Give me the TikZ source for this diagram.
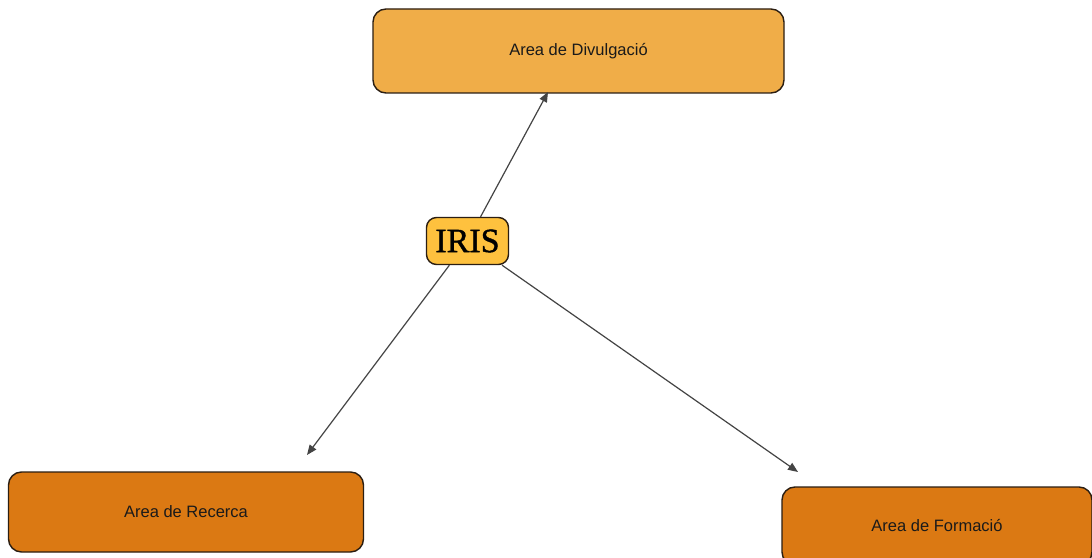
\documentclass[tikz,border=0pt]{standalone}
\usepackage{fontspec}
\setmainfont{Liberation Sans}
\newfontface\irisfont{Liberation Serif}[FakeBold=1.2]
\usetikzlibrary{arrows.meta}
\definecolor{topfill}{HTML}{F0AD48}
\definecolor{irisfill}{HTML}{FEC13E}
\definecolor{botfill}{HTML}{DB7913}
\definecolor{edgecol}{HTML}{2B1E12}
\definecolor{arrcol}{HTML}{444444}
\definecolor{txtcol}{HTML}{1A1A1A}
\begin{document}
\begin{tikzpicture}[x=1bp,y=-1bp,
  box/.style={draw=edgecol, line width=1.4bp, rounded corners=13bp, inner sep=0pt,
    font=\fontsize{16.5bp}{20bp}\selectfont, text=txtcol},
  conn/.style={draw=arrcol, line width=1.2bp, -{Triangle[length=10bp,width=8bp]}}]
\useasboundingbox (0,0) rectangle (1092,558);
\fill[white] (0,0) rectangle (1092,558);
\begin{scope}
\clip (0,0) rectangle (1092,558);
\node[box, fill=topfill, minimum width=411bp, minimum height=84bp] (div) at (578.5,51) {Area de Divulgació};
\node[box, fill=irisfill, rounded corners=10bp, minimum width=82bp, minimum height=47bp,
  font=\irisfont\fontsize{34bp}{36bp}\selectfont, text=black] (iris) at (467.5,241) {IRIS};
\node[box, fill=botfill, minimum width=355bp, minimum height=80bp] (rec) at (186,512) {Area de Recerca};
\node[box, fill=botfill, minimum width=310bp, minimum height=78bp] (form) at (937,526) {Area de Formació};
\coordinate (t1) at (548,92);
\coordinate (t2) at (307,455);
\coordinate (t3) at (798,472);
\draw[conn] (iris) -- (t1);
\draw[conn] (iris) -- (t2);
\draw[conn] (iris) -- (t3);
\end{scope}
\end{tikzpicture}
\end{document}
